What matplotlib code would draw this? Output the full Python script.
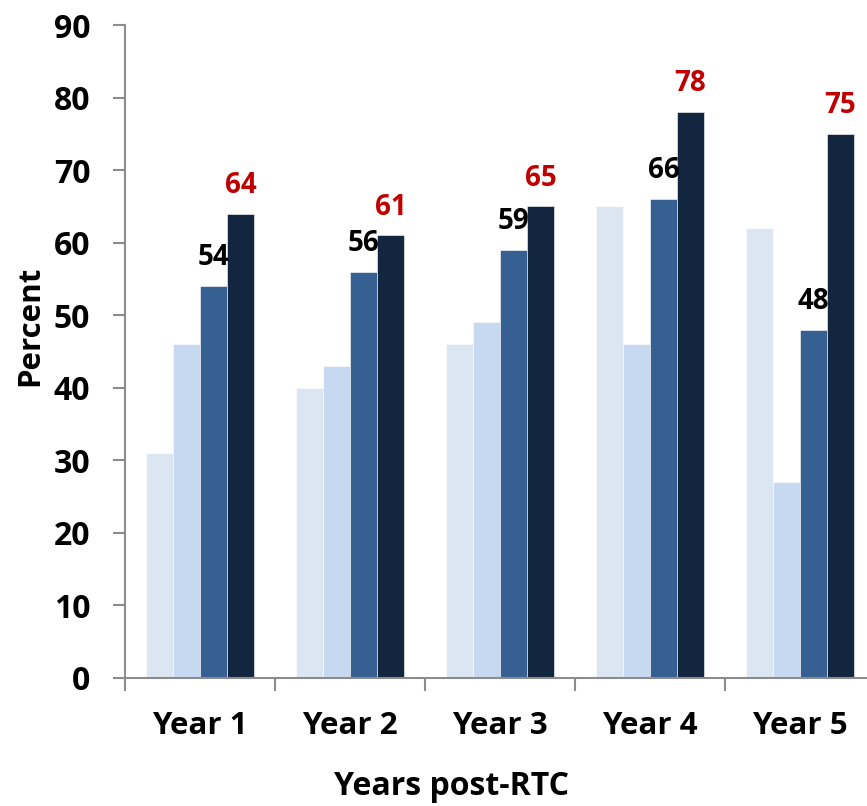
import matplotlib
matplotlib.use("Agg")
import matplotlib.pyplot as plt
import numpy as np

categories = ["Year 1", "Year 2", "Year 3", "Year 4", "Year 5"]
series_a = [31, 40, 46, 65, 62]
series_b = [46, 43, 49, 46, 27]
series_c = [54, 56, 59, 66, 48]
series_d = [64, 61, 65, 78, 75]
y_ticks = [0, 10, 20, 30, 40, 50, 60, 70, 80, 90]

colors = ["#dce6f2", "#c6d9f0", "#376092", "#12263f"]
axis_grey = "#8c8c8c"

plt.rcParams["font.family"] = ["Open Sans", "DejaVu Sans"]
plt.rcParams["font.weight"] = "bold"

W, H = 867, 806
fig = plt.figure(figsize=(W / 100, H / 100), dpi=100)
left_px, right_px, top_px, bottom_px = 125, 875, 25, 678
ax = fig.add_axes([left_px / W, 1 - bottom_px / H,
                   (right_px - left_px) / W, (bottom_px - top_px) / H])

x = np.arange(len(categories))
width = 0.18
all_series = [series_a, series_b, series_c, series_d]
bars = []
for i, (vals, col) in enumerate(zip(all_series, colors)):
    b = ax.bar(x + (i - 1.5) * width, vals, width, color=col,
               edgecolor="white", linewidth=0.4, zorder=2)
    bars.append(b)

for rect, v in zip(bars[2], series_c):
    ax.annotate(f"{v}", (rect.get_x() + rect.get_width() / 2, v),
                xytext=(0, 10), textcoords="offset points",
                ha="center", va="bottom", fontsize=20, fontweight="bold",
                color="black")
for rect, v in zip(bars[3], series_d):
    ax.annotate(f"{v}", (rect.get_x() + rect.get_width() / 2, v),
                xytext=(0, 10), textcoords="offset points",
                ha="center", va="bottom", fontsize=20, fontweight="bold",
                color="#c00000")

ax.set_xlim(-0.5, len(categories) - 0.5)
ax.set_ylim(0, 90)
ax.set_yticks(y_ticks)
ax.set_yticklabels([str(t) for t in y_ticks], fontsize=23, fontweight="bold")
ax.tick_params(axis="y", direction="out", length=9, width=1.5,
               color=axis_grey, pad=16)

ax.set_xticks(np.arange(len(categories) + 1) - 0.5)
ax.set_xticklabels([])
ax.tick_params(axis="x", which="major", direction="out", length=9,
               width=1.5, color=axis_grey)
ax.set_xticks(x, minor=True)
ax.set_xticklabels(categories, minor=True, fontsize=22.5, fontweight="bold")
ax.tick_params(axis="x", which="minor", length=0, pad=24)

for s in ["top", "right"]:
    ax.spines[s].set_visible(False)
for s in ["left", "bottom"]:
    ax.spines[s].set_color(axis_grey)
    ax.spines[s].set_linewidth(1.5)

fig.text(451 / W, 1 - 795 / H, "Years post-RTC", ha="center", va="baseline",
         fontsize=23, fontweight="bold")
fig.text(30 / W, 1 - 326 / H, "Percent", ha="center", va="center",
         rotation=90, fontsize=22.5, fontweight="bold")

fig.savefig("out.png", dpi=100)
